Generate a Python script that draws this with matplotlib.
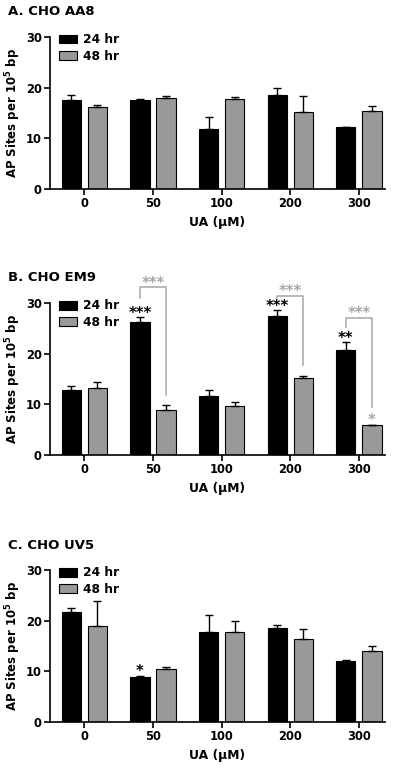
import numpy as np
import matplotlib
matplotlib.use('Agg')
import matplotlib.pyplot as plt

plt.rcParams['font.family'] = ['DejaVu Sans']
plt.rcParams['font.weight'] = 'bold'
plt.rcParams['mathtext.fontset'] = 'custom'
plt.rcParams['mathtext.bf'] = 'DejaVu Sans:bold'
plt.rcParams['mathtext.rm'] = 'DejaVu Sans:bold'

# UA concentrations (uM)
doses = ['0', '50', '100', '200', '300']
series = ['24 hr', '48 hr']

# A. CHO AA8
aa8_24 = [17.5, 17.6, 11.8, 18.6, 12.2]
aa8_24_err = [1.0, 0.15, 2.3, 1.3, 0.0]
aa8_48 = [16.2, 18.0, 17.7, 15.2, 15.4]
aa8_48_err = [0.4, 0.25, 0.5, 3.1, 0.9]

# B. CHO EM9
em9_24 = [12.9, 26.2, 11.6, 27.4, 20.8]
em9_24_err = [0.8, 1.0, 1.3, 1.2, 1.4]
em9_48 = [13.2, 8.9, 9.6, 15.1, 5.9]
em9_48_err = [1.2, 1.0, 0.9, 0.4, 0.0]
em9_stars_24 = ['', '***', '', '***', '**']
em9_stars_48 = ['', '', '', '', '*']
# brackets 24 hr vs 48 hr: dose index, top, left leg end, right leg end
em9_br_idx = [1, 3, 4]
em9_br_top = [33.1, 31.4, 27.1]
em9_br_left = [31.0, 30.9, 25.3]
em9_br_right = [11.8, 17.8, 9.5]

# C. CHO UV5
uv5_24 = [21.75, 8.8, 17.7, 18.6, 12.05]
uv5_24_err = [0.65, 0.2, 3.5, 0.45, 0.15]
uv5_48 = [19.0, 10.35, 17.8, 16.3, 13.9]
uv5_48_err = [4.9, 0.55, 2.2, 2.0, 1.1]
uv5_stars_24 = ['', '*', '', '', '']

GRAY = '#999999'
ANNO_GRAY = '#a6a6a6'
width = 0.28
off = 0.19


def draw_panel(ax, title, v24, e24, v48, e48):
    x = np.arange(len(doses))
    ax.bar(x - off, v24, width, color='black', edgecolor='black', linewidth=0.8, label=series[0])
    ax.bar(x + off, v48, width, color=GRAY, edgecolor='black', linewidth=0.8, label=series[1])
    ax.errorbar(x - off, v24, yerr=[np.zeros(len(e24)), e24], fmt='none', ecolor='black',
                elinewidth=1, capsize=3, capthick=1)
    ax.errorbar(x + off, v48, yerr=[np.zeros(len(e48)), e48], fmt='none', ecolor='black',
                elinewidth=1, capsize=3, capthick=1)
    ax.set_xlim(-0.5, 4.38)
    ax.set_ylim(0, 30)
    ax.set_yticks([0, 10, 20, 30])
    ax.set_xticks(x)
    ax.set_xticklabels(doses)
    ax.spines['top'].set_visible(False)
    ax.spines['right'].set_visible(False)
    ax.spines['left'].set_linewidth(1.2)
    ax.spines['bottom'].set_linewidth(1.2)
    ax.tick_params(direction='out', length=4, width=1.2, labelsize=8.3, pad=2)
    for lbl in ax.get_xticklabels() + ax.get_yticklabels():
        lbl.set_fontweight('bold')
    ax.set_xlabel('UA (μM)', fontsize=8.9, fontweight='bold', labelpad=4)
    ax.set_ylabel(r'AP Sites per 10$^{\mathbf{5}}$ bp', fontsize=8.5, fontweight='bold', labelpad=2)
    ax.legend(loc='upper left', bbox_to_anchor=(0.0, 1.08), frameon=False, fontsize=8.8,
              handlelength=1.5, handleheight=0.75, handletextpad=0.5, labelspacing=0.3,
              borderaxespad=0.3)
    ax.text(-0.125, 1.164, title, transform=ax.transAxes, fontsize=9.5, fontweight='bold',
            ha='left', va='center')


fig = plt.figure(figsize=(4, 7.68), dpi=100)
axA = fig.add_axes([0.125, 0.754, 0.8375, 0.198])
axB = fig.add_axes([0.125, 0.4076, 0.8375, 0.198])
axC = fig.add_axes([0.125, 0.0603, 0.8375, 0.1975])

draw_panel(axA, 'A. CHO AA8', aa8_24, aa8_24_err, aa8_48, aa8_48_err)
draw_panel(axB, 'B. CHO EM9', em9_24, em9_24_err, em9_48, em9_48_err)
draw_panel(axC, 'C. CHO UV5', uv5_24, uv5_24_err, uv5_48, uv5_48_err)

# significance stars
for i, s in enumerate(em9_stars_24):
    if s:
        axB.text(i - off, em9_24[i] + em9_24_err[i] - 0.8, s, ha='center', va='bottom',
                 fontsize=10.5, fontweight='bold', color='black', clip_on=False)
for i, s in enumerate(em9_stars_48):
    if s:
        axB.text(i + off, em9_48[i] + em9_48_err[i] - 0.6, s, ha='center', va='bottom',
                 fontsize=10.5, fontweight='bold', color=ANNO_GRAY, clip_on=False)
for i, s in enumerate(uv5_stars_24):
    if s:
        axC.text(i - off, uv5_24[i] + uv5_24_err[i] - 0.5, s, ha='center', va='bottom',
                 fontsize=10.5, fontweight='bold', color='black', clip_on=False)

# brackets between 24 hr and 48 hr
for k, i in enumerate(em9_br_idx):
    xl, xr = i - off, i + off
    axB.plot([xl, xl, xr, xr], [em9_br_left[k], em9_br_top[k], em9_br_top[k], em9_br_right[k]],
             color=ANNO_GRAY, lw=1.1, clip_on=False)
    axB.text((xl + xr) / 2, em9_br_top[k] - 0.7, '***', ha='center', va='bottom',
             fontsize=10.5, fontweight='bold', color=ANNO_GRAY, clip_on=False)

fig.savefig('out.png', dpi=100)
